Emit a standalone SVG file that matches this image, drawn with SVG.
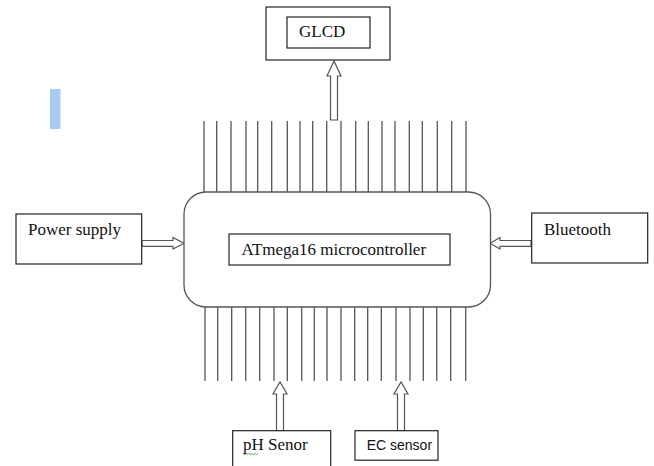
<svg xmlns="http://www.w3.org/2000/svg" width="654" height="466" viewBox="0 0 654 466">
<style>
.box{fill:#fff;stroke:#222;stroke-width:1.2}
.t{font-family:"Liberation Serif","Times New Roman",serif;font-size:17px;fill:#111}
.s{font-family:"Liberation Sans",Arial,sans-serif;font-size:14px;fill:#111}
.pin{stroke:#555;stroke-width:1.3}
.arr{fill:#fff;stroke:#555;stroke-width:1.2;stroke-linejoin:miter}
</style>
<rect width="654" height="466" fill="#fff"/>
<rect x="50" y="89" width="10.5" height="40" fill="#a9cbef"/>
<g id="connectors">
<g id="pins-top">
<path class="pin" d="M204 121V192M216.7 121V192M231 121V192M246 121V192M257.7 121V192M271.7 121V192M287.3 121V192M300 121V192M312.7 121V192M326.7 121V192M341 121V192M355.7 121V192M368.3 121V192M382 121V192M395 121V192M409.3 121V192M422.3 121V192M437.3 121V192M451.7 121V192M466 121V192"/>
</g>
<g id="pins-bottom">
<path class="pin" d="M205 307V381M217.7 307V381M231.7 307V381M245.7 307V381M259.7 307V381M274 307V381M287.3 307V381M301.7 307V381M314.3 307V381M327 307V381M341 307V381M354.7 307V381M367.7 307V381M381.3 307V381M396 307V381M410 307V381M423.3 307V381M436.7 307V381M450.7 307V381M465.7 307V381"/>
</g>
<path class="arr" d="M330.5 120V76H327L334 61L341 76H337.5V120Z"/>
<path class="arr" d="M142 240.5H173V237.5L184 243.3L173 249V246.3H142Z"/>
<path class="arr" d="M531 240.5H500V237.5L490 243.3L500 249V246.3H531Z"/>
<path class="arr" d="M276.5 430.5V394H273L280 382L287 394H283.5V430.5Z"/>
<path class="arr" d="M397.5 430.5V394H394L401 382L408 394H404.5V430.5Z"/>
</g>
<g id="glcd">
<rect class="box" x="266" y="7" width="124" height="53"/>
<rect class="box" x="287" y="17" width="83" height="31"/>
<text class="t" x="299" y="37">GLCD</text>
</g>
<g id="mcu">
<rect x="184" y="192" width="306.5" height="115" rx="22" ry="22" fill="#fff" stroke="#555" stroke-width="1.3"/>
<rect class="box" x="229" y="234" width="221" height="31"/>
<text class="t" x="241.5" y="254.5">ATmega16 microcontroller</text>
</g>
<g id="power">
<rect class="box" x="16" y="214" width="125.7" height="50"/>
<text class="t" x="28" y="235">Power supply</text>
</g>
<g id="bluetooth">
<rect class="box" x="531.7" y="213" width="116" height="50"/>
<text class="t" x="544" y="235">Bluetooth</text>
</g>
<g id="ph">
<rect class="box" x="232.7" y="430.7" width="98" height="40"/>
<text class="t" x="243" y="450">pH Senor</text>
<path d="M243 453.5l1.5 1.2 1.5-1.2 1.5 1.2 1.5-1.2 1.5 1.2 1.5-1.2 1.5 1.2 1.5-1.2 1.5 1.2 1.5-1.2" fill="none" stroke="#3a9a3a" stroke-width="0.8"/>
</g>
<g id="ec">
<rect class="box" x="355" y="430.7" width="83" height="29.5"/>
<text class="s" x="366.7" y="450">EC sensor</text>
</g>
</svg>
